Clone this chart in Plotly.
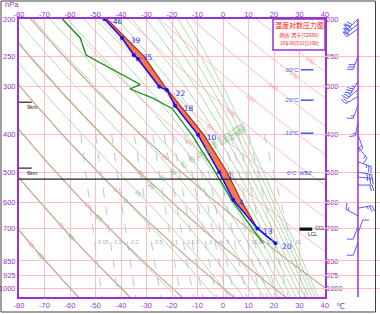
import numpy as np
import plotly.graph_objects as go

# ---------------- data ----------------
temp_p = [765, 700, 590, 500, 400, 336, 306, 300, 254, 248, 224, 200]
temp_t = [20.6, 13.5, 4.0, -1.5, -9.8, -18.8, -22.0, -25.0, -33.3, -35.0, -39.6, -46.5]
temp_lbl = ["20", "13", "4", "-1", "-10", "-18", "-22", "", "", "-35", "-39", "-46"]

dew_p = [765, 700, 591, 500, 400, 341, 336, 321, 304, 296, 248, 224, 200]
dew_t = [15.7, 11.4, 3.5, -3.0, -12.2, -20.0, -22.0, -27.5, -36.5, -32.5, -53.7, -56.0, -63.0]

parcel_p = [765, 700, 600, 500, 400, 300, 250, 200]
parcel_t = [20.6, 13.5, 7.5, 1.6, -7.5, -22.7, -31.0, -45.5]

wind_p = [200, 206, 212, 250, 290, 305, 318, 335, 370, 400, 430, 470, 500, 515, 540, 620, 650, 690, 720, 760]
wind_dir = [225, 230, 235, 200, 210, 230, 240, 200, 190, 160, 140, 110, 100, 95, 90, 80, 300, 200, 20, 200]
wind_spd = [28, 26, 24, 12, 14, 10, 8, 6, 6, 8, 6, 10, 12, 10, 8, 10, 6, 4, 4, 4]

iso_lbl = ["-30°C", "-20°C", "-10°C"]
iso_p = [271, 325, 396]
wbz_p = 521
km_lbl = ["9km", "6km"]
km_p = [329, 488]
ccl_p, lcl_p = 700, 706

x_ticks = list(range(-80, 41, 10))
p_ticks = [200, 250, 300, 400, 500, 600, 700, 850, 925, 1000]
theta_vals = list(range(-60, 241, 20))
brown_vals = [-60, -40, -20, 0, 20, 40]
thse_vals = [-60, -40, -20, 0] + list(range(10, 151, 10))
mix_vals = [0.05, 0.1, 0.2, 0.5, 1, 1.5, 2, 3, 4, 5, 7, 10, 12, 15, 20, 30]
mix_lbl = ["0.05", "0.1", "0.2", "0.5", "1", "1.5", "2", "3", "4", "5", "7", "10", "12", "15", "", "30"]

# ---------------- geometry ----------------
W, H = 380, 314
X0, X1, Y0, Y1 = 19, 325, 19, 297
T_MIN, T_MAX = -80, 40
P_TOP, P_BOT = 200, 1055
S = (Y1 - Y0) / np.log(P_BOT / P_TOP)

def ypx(p):
    return Y0 + S * np.log(np.asarray(p, float) / P_TOP)

def p_of(y):
    return P_TOP * np.exp((np.asarray(y, float) - Y0) / S)

def xpx(t):
    return X0 + (np.asarray(t, float) - T_MIN) / (T_MAX - T_MIN) * (X1 - X0)

PURPLE = "#9933cc"
PINK = "#ffbccb"
FONT = "Liberation Sans"

# ---------------- thermodynamics for the diagram lines ----------------
def es(tc):
    return 6.112 * np.exp(17.67 * tc / (tc + 243.5))

def dry_adiabat(theta_c, p):
    return (theta_c + 273.15) * (p / 1000.0) ** 0.2857 - 273.15

def mix_td(w, p):
    e = w * p / (622.0 + w)
    a = np.log(e / 6.112)
    return 243.5 * a / (17.67 - a)

def theta_se(tc, p):
    T = tc + 273.15
    e = es(tc)
    r = 0.622 * e / (p - e)
    return T * (1000.0 / p) ** 0.2857 * np.exp(2.5e6 * r / (1004.0 * T)) - 273.15

def dTdp(T, p):
    tc = T - 273.15
    e = es(tc)
    r = 0.622 * e / (p - e)
    return (287.0 * T + 2.5e6 * r) / (p * (1004.0 + 2.5e6 ** 2 * r * 0.622 / (287.0 * T * T)))

def moist_line(thse_c):
    lo, hi = -120.0, 60.0
    for _ in range(60):
        mid = 0.5 * (lo + hi)
        if theta_se(mid, 1000.0) > thse_c:
            hi = mid
        else:
            lo = mid
    T0 = 0.5 * (lo + hi) + 273.15
    ps_up = np.arange(1000.0, 199.0, -2.0)
    Ts_up = [T0]
    for i in range(1, len(ps_up)):
        dp = ps_up[i] - ps_up[i - 1]
        T = Ts_up[-1]
        k1 = dTdp(T, ps_up[i - 1])
        k2 = dTdp(T + k1 * dp, ps_up[i])
        Ts_up.append(T + 0.5 * (k1 + k2) * dp)
    ps_dn = np.arange(1000.0, 1062.0, 2.0)
    Ts_dn = [T0]
    for i in range(1, len(ps_dn)):
        dp = ps_dn[i] - ps_dn[i - 1]
        Ts_dn.append(Ts_dn[-1] + dTdp(Ts_dn[-1], ps_dn[i - 1]) * dp)
    ps = np.concatenate([ps_dn[::-1], ps_up[1:]])
    Ts = np.concatenate([np.array(Ts_dn[::-1]), np.array(Ts_up[1:])]) - 273.15
    return ps, Ts

def label_point(ps, ts, a, b):
    xs, ys = xpx(ts), ypx(ps)
    m = (b[1] - a[1]) / (b[0] - a[0])
    f = ys - (a[1] + m * (xs - a[0]))
    idx = np.where(np.sign(f[:-1]) != np.sign(f[1:]))[0]
    for i in idx:
        x = xs[i]; y = ys[i]
        if X0 + 3 < x < X1 - 6 and Y0 + 3 < y < Y1 - 3 and 0 < i < len(xs) - 1:
            ang = np.degrees(np.arctan2(ys[i + 1] - ys[i - 1], xs[i + 1] - xs[i - 1]))
            if ang > 90:
                ang -= 180
            if ang < -90:
                ang += 180
            return float(ts[i]), float(ps[i]), float(ang)
    return None

fig = go.Figure()
annotations = []

pp = np.exp(np.linspace(np.log(200), np.log(1060), 120))

# dry adiabats (pink)
for th in theta_vals:
    ts = dry_adiabat(th, pp)
    fig.add_trace(go.Scatter(x=ts, y=pp, mode="lines", line=dict(color="#ffb3c3", width=0.9),
                             hoverinfo="skip", showlegend=False))
    lp = label_point(pp, ts, (33, 245), (330, 52))
    if lp:
        annotations.append(dict(x=lp[0], y=np.log10(lp[1]), xref="x", yref="y", text=str(th),
                                showarrow=False, textangle=lp[2],
                                font=dict(size=6, color="#ff9aa8", family=FONT)))

# pseudo-adiabats (green)
for th in thse_vals:
    ps, ts = moist_line(th)
    fig.add_trace(go.Scatter(x=ts, y=ps, mode="lines", line=dict(color="#a8d6a8", width=0.9),
                             hoverinfo="skip", showlegend=False))
    lp = label_point(ps, ts, (42, 253), (330, 73))
    if lp:
        annotations.append(dict(x=lp[0], y=np.log10(lp[1]), xref="x", yref="y", text=str(th),
                                showarrow=False, textangle=lp[2],
                                font=dict(size=6, color="#80b880", family=FONT)))

# brown dry adiabats
for th in brown_vals:
    ts = dry_adiabat(th, pp)
    fig.add_trace(go.Scatter(x=ts, y=pp, mode="lines", line=dict(color="#c4aa8c", width=1.1),
                             hoverinfo="skip", showlegend=False))

# mixing ratio lines
pm = np.exp(np.linspace(np.log(400), np.log(1060), 40))
for w, lab in zip(mix_vals, mix_lbl):
    ts = mix_td(w, pm)
    fig.add_trace(go.Scatter(x=ts, y=pm, mode="lines",
                             line=dict(color="#b4c0d0", width=0.9, dash="dash"),
                             hoverinfo="skip", showlegend=False))
    if lab:
        tl = float(mix_td(w, 760.0))
        annotations.append(dict(x=tl + 0.6, y=np.log10(760), xref="x", yref="y", text=lab,
                                showarrow=False, xanchor="left",
                                font=dict(size=5.5, color="#a8b0bc", family=FONT)))

# CAPE fill between parcel and temperature
fx = list(parcel_t) + list(temp_t[::-1])
fy = list(parcel_p) + list(temp_p[::-1])
fig.add_trace(go.Scatter(x=fx, y=fy, mode="lines", fill="toself", fillcolor="#f5794f",
                         line=dict(width=0), hoverinfo="skip", showlegend=False))
fig.add_trace(go.Scatter(x=parcel_t, y=parcel_p, mode="lines", line=dict(color="#c81e0a", width=1.2),
                         hoverinfo="skip", showlegend=False))
fig.add_trace(go.Scatter(x=dew_t, y=dew_p, mode="lines", line=dict(color="#119111", width=1.3),
                         hoverinfo="skip", showlegend=False))
fig.add_trace(go.Scatter(x=temp_t, y=temp_p, mode="lines+markers",
                         line=dict(color="#1010ff", width=1.6),
                         marker=dict(size=4, color="#1010ff"),
                         hoverinfo="skip", showlegend=False))
for t, p, lab in zip(temp_t, temp_p, temp_lbl):
    if lab:
        annotations.append(dict(x=t, y=np.log10(p), xref="x", yref="y", text=lab, showarrow=False,
                                xanchor="left", xshift=4, yshift=-3,
                                font=dict(size=7.5, color="#3030ff", family="DejaVu Sans")))

fig.add_trace(go.Scatter(x=[T_MIN, T_MAX], y=[wbz_p, wbz_p], mode="lines",
                         line=dict(color="#202020", width=1.2), hoverinfo="skip", showlegend=False))
annotations.append(dict(x=35.5, y=np.log10(wbz_p), xref="x", yref="y", text="0°C  WBZ", showarrow=False,
                        xanchor="right", yanchor="bottom", yshift=1,
                        font=dict(size=5.5, color="#3050ff", family=FONT)))

for lab, p in zip(km_lbl, km_p):
    fig.add_trace(go.Scatter(x=[T_MIN, T_MIN + 5], y=[p, p], mode="lines",
                             line=dict(color="#202020", width=1.2), hoverinfo="skip", showlegend=False))
    annotations.append(dict(x=T_MIN + 2.5, y=np.log10(p), xref="x", yref="y", text=lab, showarrow=False,
                            xanchor="left", yanchor="top",
                            font=dict(size=5.5, color="#202020", family=FONT)))

for lab, p in zip(iso_lbl, iso_p):
    fig.add_trace(go.Scatter(x=[30.5, 35.5], y=[p, p], mode="lines",
                             line=dict(color="#3050ff", width=1.4), hoverinfo="skip", showlegend=False))
    annotations.append(dict(x=30, y=np.log10(p), xref="x", yref="y", text=lab, showarrow=False,
                            xanchor="right", font=dict(size=5.5, color="#3050ff", family=FONT)))

for p in [ccl_p, lcl_p]:
    fig.add_trace(go.Scatter(x=[30.0, 35.0], y=[p, p], mode="lines",
                             line=dict(color="#101010", width=1.8), hoverinfo="skip", showlegend=False))
annotations.append(dict(x=35.1, y=np.log10(ccl_p), xref="x", yref="y", text="CCL", showarrow=False,
                        xanchor="left", font=dict(size=4.8, color="#101010", family=FONT)))
annotations.append(dict(x=32.5, y=np.log10(lcl_p), xref="x", yref="y", text="LCL", showarrow=False,
                        xanchor="left", yanchor="top",
                        font=dict(size=4.8, color="#101010", family=FONT)))

# wind barbs (pixel x on x3, pressure y)
bx, by = [], []
XB = 358
for p, d, s in zip(wind_p, wind_dir, wind_spd):
    y0 = float(ypx(p))
    th = np.deg2rad(d)
    ux, uy = float(np.sin(th)), float(-np.cos(th))
    L = 14.0
    fxv, fyv = -uy, ux
    bx += [XB, XB + ux * L, None]
    by += [y0, y0 + uy * L, None]
    n_flag = int(s // 20)
    rem = s - 20 * n_flag
    n_full = int(rem // 4)
    half = (rem - 4 * n_full) >= 2
    pos = L
    for _ in range(n_flag):
        a = (XB + ux * pos, y0 + uy * pos)
        c = (XB + ux * (pos - 3), y0 + uy * (pos - 3))
        o = (a[0] + fxv * 6, a[1] + fyv * 6)
        bx += [a[0], o[0], c[0], None]
        by += [a[1], o[1], c[1], None]
        pos -= 3.5
    for _ in range(n_full):
        a = (XB + ux * pos, y0 + uy * pos)
        o = (a[0] + fxv * 6 + ux * 2, a[1] + fyv * 6 + uy * 2)
        bx += [a[0], o[0], None]
        by += [a[1], o[1], None]
        pos -= 2.5
    if half:
        a = (XB + ux * pos, y0 + uy * pos)
        o = (a[0] + fxv * 3 + ux * 1, a[1] + fyv * 3 + uy * 1)
        bx += [a[0], o[0], None]
        by += [a[1], o[1], None]
bp = [None if v is None else float(p_of(v)) for v in by]
bx = [None if v is None else float(v) for v in bx]
fig.add_trace(go.Scatter(x=bx, y=bp, xaxis="x3", yaxis="y", mode="lines",
                         line=dict(color="#5a5aff", width=1), hoverinfo="skip", showlegend=False))

annotations += [
    dict(x=299 / W, y=1 - 25 / H, xref="paper", yref="paper", text="温度对数压力图", showarrow=False,
         xanchor="center", yanchor="middle",
         font=dict(size=7, color="#ff1010", family="Noto Sans CJK SC")),
    dict(x=299 / W, y=1 - 35 / H, xref="paper", yref="paper", text="测站: 西宁(52866)", showarrow=False,
         xanchor="center", yanchor="middle",
         font=dict(size=5, color="#ff1010", family="Noto Sans CJK SC")),
    dict(x=299 / W, y=1 - 43.5 / H, xref="paper", yref="paper", text="18年08月02日20时", showarrow=False,
         xanchor="center", yanchor="middle",
         font=dict(size=4.6, color="#ff1010", family="Noto Sans CJK SC")),
    dict(x=3 / W, y=1 - 5 / H, xref="paper", yref="paper", text="hPa", showarrow=False,
         xanchor="left", yanchor="middle",
         font=dict(size=7.5, color=PURPLE, family=FONT)),
    dict(x=334 / W, y=1 - 306 / H, xref="paper", yref="paper", text="℃", showarrow=False,
         xanchor="left", yanchor="middle",
         font=dict(size=8, color=PURPLE, family="DejaVu Sans")),
]

shapes = [
    dict(type="rect", xref="paper", yref="paper", x0=273 / W, x1=X1 / W, y0=1 - 50 / H, y1=1 - Y0 / H,
         fillcolor="white", line=dict(color=PURPLE, width=1.5), layer="above"),
    dict(type="line", xref="paper", yref="paper", x0=XB / W, x1=XB / W, y0=1 - Y1 / H, y1=1 - Y0 / H,
         line=dict(color=PURPLE, width=1.5)),
    dict(type="rect", xref="paper", yref="paper", x0=1 / W, x1=375.5 / W, y0=1 - 312 / H, y1=1 - 1 / H,
         line=dict(color="#404040", width=1)),
]

tickfont = dict(size=7.5, color=PURPLE, family=FONT)
common_x = dict(range=[T_MIN, T_MAX], tickvals=x_ticks, ticktext=[str(v) for v in x_ticks],
                domain=[X0 / W, X1 / W], tickfont=tickfont, ticks="", zeroline=False, automargin=False)
ylog = [float(np.log10(P_BOT)), float(np.log10(P_TOP))]
common_y = dict(type="log", range=ylog, tickvals=p_ticks, ticktext=[str(v) for v in p_ticks],
                domain=[1 - Y1 / H, 1 - Y0 / H], tickfont=tickfont, ticks="", zeroline=False,
                automargin=False)

fig.update_layout(
    template="none",
    width=W, height=H, margin=dict(l=0, r=0, t=0, b=0, pad=0),
    paper_bgcolor="white", plot_bgcolor="rgba(0,0,0,0)", showlegend=False,
    xaxis=dict(**common_x, showgrid=True, gridcolor=PINK, gridwidth=1.3,
               showline=True, linecolor=PURPLE, linewidth=2, mirror=True, anchor="y"),
    xaxis2=dict(**common_x, overlaying="x", side="top", showgrid=False, anchor="y"),
    xaxis3=dict(range=[X1, W], domain=[X1 / W, 1], visible=False, anchor="y", showgrid=False,
                automargin=False),
    yaxis=dict(**common_y, showgrid=True, gridcolor=PINK, gridwidth=1.3,
               showline=True, linecolor=PURPLE, linewidth=2, mirror=True, anchor="x"),
    yaxis2=dict(**common_y, overlaying="y", side="right", showgrid=False, anchor="x"),
    annotations=annotations, shapes=shapes,
)
fig.add_trace(go.Scatter(x=[None], y=[None], xaxis="x2", yaxis="y2", showlegend=False))

fig.write_html("out.html", config={"displayModeBar": False},
               post_script="document.body.style.margin='0';document.body.style.padding='0';")
